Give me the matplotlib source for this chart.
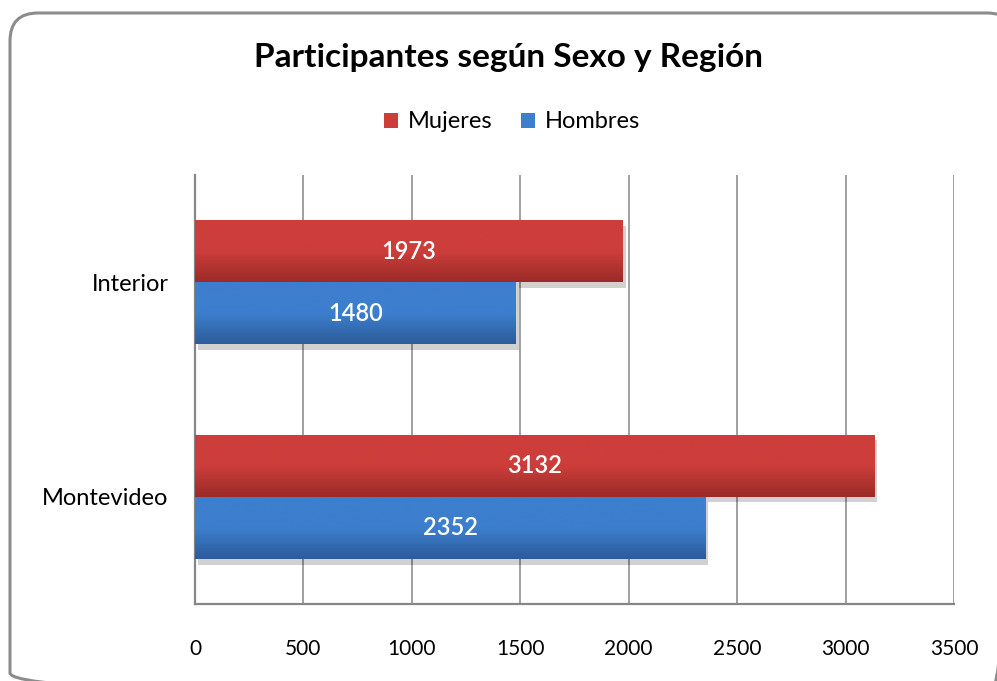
import matplotlib
matplotlib.use('Agg')
import matplotlib.pyplot as plt
import matplotlib.patheffects as pe
from matplotlib.patches import FancyBboxPatch, Patch
import numpy as np

# === Data ===
regions = ['Interior', 'Montevideo']
mujeres = [1973, 3132]
hombres = [1480, 2352]
series_names = ['Mujeres', 'Hombres']
xticks = [0, 500, 1000, 1500, 2000, 2500, 3000, 3500]

# === Style ===
plt.rcParams['font.family'] = ['Lato', 'DejaVu Sans']
red_top, red_bot = '#CD3E3B', '#9B2B28'
blue_top, blue_bot = '#3D7FCE', '#2C5C9A'
grid_col = '#868686'

W, H = 997, 681
fig = plt.figure(figsize=(W / 100, H / 100), dpi=100)

# rounded chart border, drawn on a background axes in pixel units
bg = fig.add_axes([0, 0, 1, 1], zorder=-1)
bg.set_xlim(0, W)
bg.set_ylim(H, 0)
bg.axis('off')
bg.add_patch(FancyBboxPatch((10, 13), 1005, 688, boxstyle='round,pad=0,rounding_size=28',
                            fill=False, edgecolor='#8C8C8C', linewidth=2.2))

left, right, top, bottom = 195, 954, 175, 604
ax = fig.add_axes([left / W, 1 - bottom / H, (right - left) / W, (bottom - top) / H])

y = np.arange(len(regions))
h = 0.29


def gradient_bars(ys, vals, c_top, c_bot):
    bars = ax.barh(ys, vals, height=h, color=c_top, zorder=3,
                   path_effects=[pe.SimplePatchShadow(offset=(2, -4), shadow_rgbFace='#000000', alpha=0.18),
                                 pe.Normal()])
    cmap = matplotlib.colors.LinearSegmentedColormap.from_list('g', [c_top, c_top, c_bot])
    grad = np.linspace(0, 1, 100).reshape(-1, 1)
    for b, v, yy in zip(bars, vals, ys):
        im = ax.imshow(grad, cmap=cmap, aspect='auto', zorder=4,
                       extent=[0, v, yy + h / 2, yy - h / 2], interpolation='bicubic')
        im.set_clip_path(b)
        ax.text(v / 2, yy, str(v), ha='center', va='center', color='white',
                fontsize=17, fontweight='semibold', zorder=5)
    return bars


gradient_bars(y - h / 2, mujeres, red_top, red_bot)
gradient_bars(y + h / 2, hombres, blue_top, blue_bot)

ax.set_xlim(0, 3500)
ax.set_ylim(len(regions) - 0.5, -0.5)
ax.set_xticks(xticks)
ax.set_xticklabels([str(t) for t in xticks], fontsize=15)
ax.set_yticks(y)
ax.set_yticklabels(regions, fontsize=17)
ax.tick_params(axis='both', length=0)
ax.tick_params(axis='x', pad=25)
ax.tick_params(axis='y', pad=19)
ax.xaxis.grid(True, color=grid_col, linewidth=1.1, zorder=0)
ax.set_axisbelow(True)
for s in ['top', 'right']:
    ax.spines[s].set_visible(False)
for s in ['left', 'bottom']:
    ax.spines[s].set_color(grid_col)
    ax.spines[s].set_linewidth(1.6)

fig.text(508 / W, 1 - 57 / H, 'Participantes según Sexo y Región', ha='center', va='center',
         fontsize=24, fontweight='bold')

handles = [Patch(facecolor=red_top, edgecolor='none'), Patch(facecolor=blue_top, edgecolor='none')]
fig.legend(handles, series_names, loc='center', bbox_to_anchor=(512 / W, 1 - 122 / H),
           ncol=2, frameon=False, fontsize=17, handlelength=0.6, handleheight=0.6,
           handletextpad=0.4, columnspacing=1.2)

fig.savefig('out.png', dpi=100)
